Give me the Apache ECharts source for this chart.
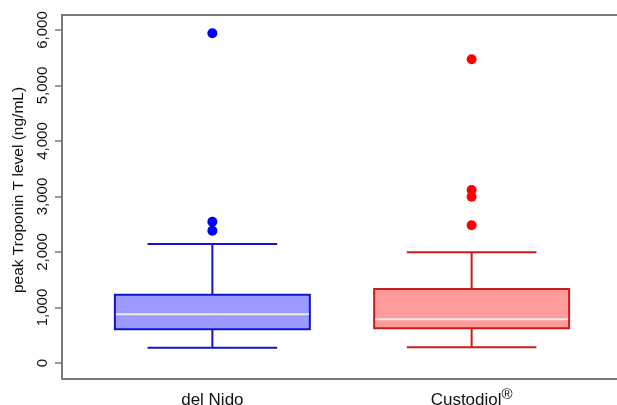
<!DOCTYPE html>
<html>
<head>
<meta charset="utf-8">
<script src="https://cdn.jsdelivr.net/npm/echarts@6/dist/echarts.min.js"></script>
<style>html,body{margin:0;padding:0;background:#fff;}#c{width:617px;height:405px;}</style>
</head>
<body>
<div id="c"></div>
<script>
const categories = ['del Nido', 'Custodiol'];
const positions = [1, 2];
const whiskerLow = [276, 283];
const q1 = [607, 625];
const median = [877, 787];
const q3 = [1231, 1333];
const whiskerHigh = [2144, 1995];
const outliersDelNido = [2384, 2546, 5940];
const outliersCustodiol = [2481, 2996, 3117, 5472];
const yTicks = [0, 1000, 2000, 3000, 4000, 5000, 6000];
const yTitle = 'peak Troponin T level (ng/mL)';

const fillColors = ['#9b9bff', '#ff9b9b'];
const lineColors = ['#1515c8', '#cc1b1b'];
const pointColors = ['#0000ff', '#ff0000'];

const boxData = positions.map((p, i) => [p, whiskerLow[i], q1[i], median[i], q3[i], whiskerHigh[i], i]);
const outlierSets = [outliersDelNido, outliersCustodiol];

const FONT = 'Liberation Sans, Arial, Helvetica, sans-serif';

const chart = echarts.init(document.getElementById('c'), null, {renderer: 'canvas'});

function renderBox(params, api) {
  const x = api.value(0);
  const idx = api.value(6);
  const pMin = api.coord([x, api.value(1)]);
  const pQ1 = api.coord([x, api.value(2)]);
  const pMed = api.coord([x, api.value(3)]);
  const pQ3 = api.coord([x, api.value(4)]);
  const pMax = api.coord([x, api.value(5)]);
  const halfBox = api.size([0.376, 0])[0];
  const halfCap = api.size([0.25, 0])[0];
  const lc = lineColors[idx];
  const ls = {stroke: lc, lineWidth: 2};
  return {
    type: 'group',
    children: [
      {type: 'line', shape: {x1: pMin[0], y1: pMin[1], x2: pQ1[0], y2: pQ1[1]}, style: ls},
      {type: 'line', shape: {x1: pQ3[0], y1: pQ3[1], x2: pMax[0], y2: pMax[1]}, style: ls},
      {type: 'line', shape: {x1: pMin[0] - halfCap, y1: pMin[1], x2: pMin[0] + halfCap, y2: pMin[1]}, style: ls},
      {type: 'line', shape: {x1: pMax[0] - halfCap, y1: pMax[1], x2: pMax[0] + halfCap, y2: pMax[1]}, style: ls},
      {type: 'rect', shape: {x: pQ3[0] - halfBox, y: pQ3[1], width: halfBox * 2, height: pQ1[1] - pQ3[1]},
        style: {fill: fillColors[idx], stroke: lc, lineWidth: 2}},
      {type: 'line', shape: {x1: pMed[0] - halfBox + 1, y1: pMed[1], x2: pMed[0] + halfBox - 1, y2: pMed[1]},
        style: {stroke: '#ececec', lineWidth: 2}}
    ]
  };
}

const series = [{
  type: 'custom',
  renderItem: renderBox,
  data: boxData,
  encode: {x: 0, y: [1, 2, 3, 4, 5]},
  silent: true,
  z: 2
}];
outlierSets.forEach((arr, i) => {
  series.push({
    type: 'scatter',
    data: arr.map(v => [positions[i], v]),
    symbol: 'circle',
    symbolSize: 10,
    itemStyle: {color: pointColors[i], opacity: 1},
    silent: true,
    z: 3
  });
});

const frameLine = {show: true, onZero: false, lineStyle: {color: '#7a7a7a', width: 2}};

chart.setOption({
  animation: false,
  backgroundColor: '#ffffff',
  grid: {left: 62, right: -5, top: 15, bottom: 26, show: false, containLabel: false, outerBoundsMode: 'none'},
  xAxis: [{
    type: 'value',
    min: 0.42,
    max: 2.58,
    position: 'bottom',
    axisLine: frameLine,
    axisTick: {show: false},
    splitLine: {show: false},
    axisLabel: {
      customValues: positions,
      margin: 8,
      color: '#111',
      fontFamily: FONT,
      fontSize: 17,
      formatter: function (v) {
        const i = positions.indexOf(Math.round(v));
        if (i === 1) return '{n|' + categories[i] + '}{sup|®}';
        return '{n|' + categories[i] + '}';
      },
      rich: {
        n: {fontSize: 17, fontFamily: FONT, color: '#111', lineHeight: 22, verticalAlign: 'bottom'},
        sup: {fontSize: 15, fontFamily: FONT, color: '#111', lineHeight: 8, verticalAlign: 'top'}
      }
    }
  }, {
    type: 'value', min: 0.42, max: 2.58, position: 'top',
    axisLine: frameLine,
    axisTick: {show: false}, axisLabel: {show: false}, splitLine: {show: false}
  }],
  yAxis: {
    type: 'value',
    min: -288,
    max: 6270,
    axisLine: frameLine,
    axisTick: {show: true, length: 7, customValues: yTicks, lineStyle: {color: '#7a7a7a', width: 1.5}},
    splitLine: {show: false},
    axisLabel: {
      customValues: yTicks,
      rotate: 90,
      margin: 12,
      color: '#111',
      fontFamily: FONT,
      fontSize: 15,
      formatter: v => Number(v).toLocaleString('en-US')
    },
    name: yTitle,
    nameLocation: 'middle',
    nameRotate: 90,
    nameGap: 34,
    nameTextStyle: {color: '#111', fontFamily: FONT, fontSize: 15.5, padding: [0, 0, 0, 14]}
  },
  series: series
});
</script>
</body>
</html>
